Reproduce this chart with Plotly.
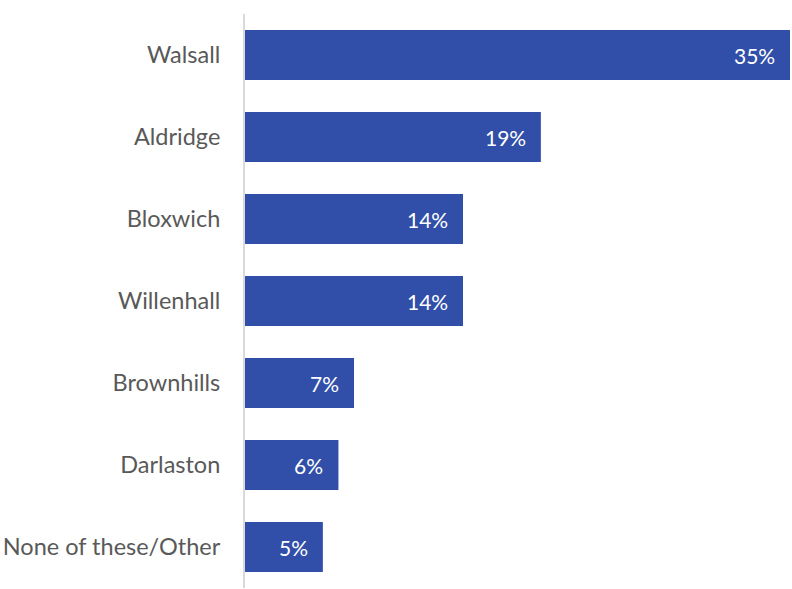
import plotly.graph_objects as go

categories = ["Walsall", "Aldridge", "Bloxwich", "Willenhall", "Brownhills", "Darlaston", "None of these/Other"]
values = [35, 19, 14, 14, 7, 6, 5]
labels = ["35%", "19%", "14%", "14%", "7%", "6%", "5%"]

fig = go.Figure(go.Bar(
    y=categories,
    x=values,
    orientation="h",
    marker=dict(color="#314FA8", line=dict(width=0)),
    hoverinfo="skip",
))

for c, v, t in zip(categories, values, labels):
    fig.add_annotation(
        x=v, y=c, xref="x", yref="y", text=t, showarrow=False,
        xanchor="right", xshift=-13,
        font=dict(color="white", size=21, family="Lato"),
    )

fig.update_layout(
    width=792, height=589,
    margin=dict(l=245, r=2, t=14, b=1),
    paper_bgcolor="white", plot_bgcolor="white",
    bargap=0.39,
    showlegend=False,
    font=dict(family="Lato", color="#595959", size=23.5),
)
fig.update_yaxes(
    categoryorder="array", categoryarray=categories[::-1],
    showline=True, linecolor="#D9D9D9", linewidth=2,
    ticks="", ticklabelstandoff=18, showgrid=False, automargin=False,
    tickfont=dict(size=23.5, color="#595959", family="Lato"),
)
fig.update_xaxes(range=[0, 35], visible=False, showgrid=False, zeroline=False, automargin=False)

fig.write_html(
    "out.html",
    config={"displayModeBar": False},
    post_script="document.body.style.margin='0';document.body.style.overflow='hidden';",
)
